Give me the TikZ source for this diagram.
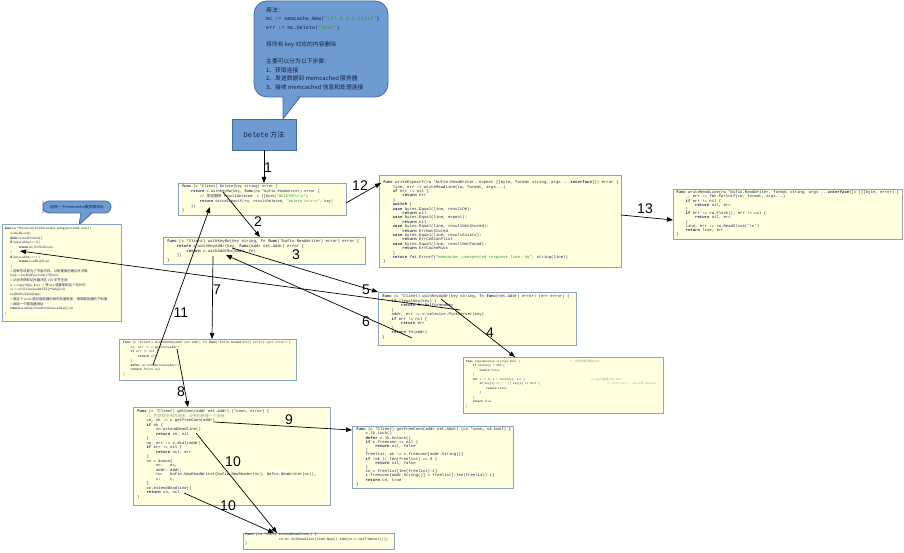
\documentclass[tikz,border=0pt]{standalone}
\usepackage{fontspec}
\setmainfont{Liberation Sans}
\setmonofont{Liberation Mono}
\newfontfamily\cjk{Noto Sans CJK SC}
\newfontfamily\pserif{Liberation Serif}
\usetikzlibrary{arrows.meta}
\definecolor{bubfill}{RGB}{111,155,211}
\definecolor{bubdraw}{RGB}{72,106,160}
\definecolor{boxfill}{RGB}{255,255,224}
\definecolor{boxdraw}{RGB}{138,163,198}
\definecolor{codec}{RGB}{28,36,88}
\definecolor{strc}{RGB}{45,155,45}
\definecolor{cmtc}{RGB}{140,160,140}
\definecolor{bubtext}{RGB}{20,30,62}
\newcommand\gokw[1]{\textbf{#1}}
\newcommand\gostr[1]{\textcolor{strc}{#1}}
\newcommand\gocm[1]{\textcolor{cmtc}{#1}}
\newcommand\zhx[1]{{\cjk #1}}
\newcommand\inA{\hspace*{2.4em}}
\newcommand\inB{\hspace*{4.8em}}
\newcommand\inC{\hspace*{7.2em}}
\newcommand\cfs[2]{\fontsize{#1}{#2}\selectfont}
\begin{document}
\begin{tikzpicture}[x=1pt,y=-1pt,
  codebox/.style={draw=boxdraw, fill=boxfill, line width=1pt, inner sep=0pt, anchor=north west, rectangle},
  codetext/.style 2 args={anchor=north west, inner sep=0pt, align=left, text=codec, font=\ttfamily\cfs{#1}{#2}},
  arr/.style={-{Triangle[length=6pt,width=4.5pt]}, line width=0.7pt, draw=black},
  numlab/.style={font=\cfs{14}{14}, text=black, inner sep=0pt},
  bubble/.style={fill=bubfill, draw=bubdraw, line width=0.8pt},
]
\fill[white] (0,0) rectangle (904,553);
\useasboundingbox (0,0) rectangle (904,553);

% big callout
\path[bubble] (254,50) [rounded corners=13pt] -- (254,1) -- (388,1) -- (388,97) -- (310,97)
  [sharp corners] -- (300,97) -- (283,119) -- (283,97) -- (270,97)
  [rounded corners=13pt] -- (254,97) -- cycle;
\node[anchor=north west, inner sep=0pt, align=left, text=bubtext, font=\cjk\cfs{5.8}{8.6}] (bubtxt) at (266,7) {用法：\\
{\ttfamily\cfs{5.1}{8.6}mc := memcache.New(\gostr{"127.0.0.1:11211"})}\\
{\ttfamily\cfs{5.1}{8.6}err := mc.Delete(\gostr{"test"})}\\
~\\
将所有 key 对应的内容删除\\
~\\
主要可以分为以下步骤：\\
1、获取连接\\
2、发送数据到 memcached 服务器\\
3、接收 memcached 信息和处理连接};

% Delete button
\node[fill=bubfill, draw=bubdraw, line width=0.8pt, minimum width=64pt, minimum height=31pt, inner sep=0pt,
  text=bubtext, font=\cjk\cfs{7}{8}] (delbtn) at (264,134.5) {{\ttfamily Delete} 方法};

% small callout
\path[bubble] (43,207) [rounded corners=6pt] -- (43,201) -- (111,201) -- (111,213) -- (96,213)
  [sharp corners] -- (92,213) -- (79,225) -- (81,213) -- (76,213)
  [rounded corners=6pt] -- (43,213) -- cycle;
\node[inner sep=0pt, text=bubtext, font=\cjk\cfs{3.8}{4}] (smalltxt) at (77,207) {选择一个memcache服务器地址};

% code boxes
\node[codebox, minimum width=168pt, minimum height=32pt] (delbox) at (178,183) {};
\node[codetext={3.7}{4.8}] (deltxt) at (182,185) {\gokw{func} (c *Client) Delete(key string) error \{\\
\inA\gokw{return} c.withKeyRw(key, \gokw{func}(rw *bufio.ReadWriter) error \{\\
\inB// \zhx{发送删除} resultDeleted\ \ = []byte(\gostr{"DELETED\textbackslash r\textbackslash n"})\\
\inB\gokw{return} writeExpectf(rw, resultDeleted, \gostr{"delete \%s\textbackslash r\textbackslash n"}, key)\\
\inA\})\\
\}};

\node[codebox, minimum width=202pt, minimum height=27pt] (rwbox) at (163,237) {};
\node[codetext={4}{4.7}] (rwtxt) at (167,239.5) {\gokw{func} (c *Client) withKeyRw(key string, fn \gokw{func}(*bufio.ReadWriter) error) error \{\\
\inA\gokw{return} c.withKeyAddr(key, \gokw{func}(addr net.Addr) error \{\\
\inB\gokw{return} c.withAddrRw(addr, fn)\\
\inA\})\\
\}};

\node[codebox, minimum width=242pt, minimum height=92pt] (wefbox) at (379,175) {};
\node[codetext={4}{4.4}] (weftxt) at (383,180.5) {\gokw{func} writeExpectf(rw *bufio.ReadWriter, expect []byte, format string, args ...\gokw{interface}\{\}) error \{\\
\inA line, err := writeReadLine(rw, format, args...)\\
\inA\gokw{if} err != nil \{\\
\inB\gokw{return} err\\
\inA\}\\
\inA\gokw{switch} \{\\
\inA\gokw{case} bytes.Equal(line, resultOK):\\
\inB\gokw{return} nil\\
\inA\gokw{case} bytes.Equal(line, expect):\\
\inB\gokw{return} nil\\
\inA\gokw{case} bytes.Equal(line, resultNotStored):\\
\inB\gokw{return} ErrNotStored\\
\inA\gokw{case} bytes.Equal(line, resultExists):\\
\inB\gokw{return} ErrCASConflict\\
\inA\gokw{case} bytes.Equal(line, resultNotFound):\\
\inB\gokw{return} ErrCacheMiss\\
\inA\}\\
\inA\gokw{return} fmt.Errorf(\gostr{"memcache: unexpected response line: \%q"}, string(line))\\
\}};

\node[codebox, minimum width=229pt, minimum height=50pt] (wrlbox) at (673,189) {};
\node[codetext={3.95}{4.2}] (wrltxt) at (676,190.5) {\gokw{func} writeReadLine(rw *bufio.ReadWriter, format string, args ...\gokw{interface}\{\}) ([]byte, error) \{\\
\inA\_, err := fmt.Fprintf(rw, format, args...)\\
\inA\gokw{if} err != nil \{\\
\inB\gokw{return} nil, err\\
\inA\}\\
\inA\gokw{if} err := rw.Flush(); err != nil \{\\
\inB\gokw{return} nil, err\\
\inA\}\\
\inA line, err := rw.ReadSlice('\textbackslash n')\\
\inA\gokw{return} line, err\\
\}};

\node[codebox, minimum width=198pt, minimum height=53pt] (kabox) at (378,292) {};
\node[codetext={3.95}{4.5}] (katxt) at (382,294.5) {\gokw{func} (c *Client) withKeyAddr(key string, fn \gokw{func}(net.Addr) error) (err error) \{\\
\inA\gokw{if} !legalKey(key) \{\\
\inB\gokw{return} ErrMalformedKey\\
\inA\}\\
\inA addr, err := c.selector.PickServer(key)\\
\inA\gokw{if} err != nil \{\\
\inB\gokw{return} err\\
\inA\}\\
\inA\gokw{return} fn(addr)\\
\}};

\node[codebox, minimum width=200pt, minimum height=56pt] (lkbox) at (463,357) {};
\node[codetext={2.8}{4.5}] (lktxt) at (466,359.5) {\makebox[37em][l]{\gokw{func} legalKey(key string) bool \{}\gocm{// \zhx{字节长度不超过}250}\\
\inA\gokw{if} len(key) > 250 \{\\
\inB\gokw{return} false\\
\inA\}\\
\makebox[44.3em][l]{\inA\gokw{for} i := 0; i < len(key); i++ \{}\gocm{// key\zhx{只能是}(32,127)}\\
\makebox[50.4em][l]{\inB\gokw{if} key[i] <= ' ' || key[i] == 0x7f \{}\gocm{// 0x7f(127) - ascii\zhx{码} delete}\\
\inC\gokw{return} false\\
\inB\}\\
\inA\}\\
\inA\gokw{return} true\\
\}};

\node[codebox, minimum width=177pt, minimum height=41pt] (arbox) at (119,339) {};
\node[codetext={3.1}{4.5}] (artxt) at (123,341.5) {\gokw{func} (c *Client) withAddrRw(addr net.Addr, fn \gokw{func}(*bufio.ReadWriter) error) (err error) \{\\
\inA cn, err := c.getConn(addr)\\
\inA\gokw{if} err != nil \{\\
\inB\gokw{return} err\\
\inA\}\\
\inA\gokw{defer} cn.condRelease(\&err)\\
\inA\gokw{return} fn(cn.rw)\\
\}};

\node[codebox, minimum width=197pt, minimum height=98pt] (gcbox) at (133,407) {};
\node[codetext={3.93}{4.5}] (gctxt) at (137,409.5) {\gokw{func} (c *Client) getConn(addr net.Addr) (*conn, error) \{\\
\inA\gocm{// \zhx{先获取空闲的连接，没有则新建一个连接}}\\
\inA cn, ok := c.getFreeConn(addr)\\
\inA\gokw{if} ok \{\\
\inB cn.extendDeadline()\\
\inB\gokw{return} cn, nil\\
\inA\}\\
\inA nc, err := c.dial(addr)\\
\inA\gokw{if} err != nil \{\\
\inB\gokw{return} nil, err\\
\inA\}\\
\inA cn = \&conn\{\\
\inB nc:\ \ \ nc,\\
\inB addr: addr,\\
\inB rw:\ \ \ bufio.NewReadWriter(bufio.NewReader(nc), bufio.NewWriter(nc)),\\
\inB c:\ \ \ \ c,\\
\inA\}\\
\inA cn.extendDeadline()\\
\inA\gokw{return} cn, nil\\
\}};

\node[codebox, minimum width=161pt, minimum height=62pt] (fcbox) at (352,426) {};
\node[codetext={3.97}{4.2}] (fctxt) at (356,427.5) {\gokw{func} (c *Client) getFreeConn(addr net.Addr) (cn *conn, ok bool) \{\\
\inA c.lk.Lock()\\
\inA\gokw{defer} c.lk.Unlock()\\
\inA\gokw{if} c.freeconn == nil \{\\
\inB\gokw{return} nil, false\\
\inA\}\\
\inA freelist, ok := c.freeconn[addr.String()]\\
\inA\gokw{if} !ok || len(freelist) == 0 \{\\
\inB\gokw{return} nil, false\\
\inA\}\\
\inA cn = freelist[len(freelist)-1]\\
\inA c.freeconn[addr.String()] = freelist[:len(freelist)-1]\\
\inA\gokw{return} cn, true\\
\}};

\node[codebox, minimum width=151pt, minimum height=16pt] (edbox) at (243,533) {};
\node[codetext={3.5}{4.3}] (edtxt) at (245,533.2) {\gokw{func} (cn *conn) extendDeadline() \{\\
\hspace*{9.6em}cn.nc.SetDeadline(time.Now().Add(cn.c.netTimeout()))\\
\}};

\node[codebox, minimum width=119pt, minimum height=97pt] (psbox) at (2,224) {};
\node[anchor=north west, inner sep=0pt, align=left, text=codec, font=\pserif\cfs{3.4}{4.7}] (pstxt) at (5,227.3) {\gokw{func} (ss *ServerList) PickServer(key string) (net.Addr, error) \{\\
\hspace*{1.5em}ss.mu.RLock()\\
\hspace*{1.5em}\gokw{defer} ss.mu.RUnlock()\\
\hspace*{1.5em}\gokw{if} len(ss.addrs) == 0 \{\\
\hspace*{4em}\gokw{return} nil, ErrNoServers\\
\hspace*{1.5em}\}\\
\hspace*{1.5em}\gokw{if} len(ss.addrs) == 1 \{\\
\hspace*{4em}\gokw{return} ss.addrs[0], nil\\
\hspace*{1.5em}\}\\
\hspace*{1.5em}// \zhx{这种写法是为了节省内存，以免重复创建切片对象}\\
\hspace*{1.5em}bufp := keyBufPool.Get().(*[]byte)\\
\hspace*{1.5em}// \zhx{从池中获取切片缓冲区} 250 \zhx{字节空间}\\
\hspace*{1.5em}n := copy(*bufp, key)\ \ \ // \zhx{将} key \zhx{值复制到这个切片中}\\
\hspace*{1.5em}cs := crc32.ChecksumIEEE((*bufp)[:n])\\
\hspace*{1.5em}keyBufPool.Put(bufp)\\
\hspace*{1.5em}// \zhx{用这个} crc32 \zhx{值对服务器列表的长度取余，得到服务器的下标值}\\
\hspace*{1.5em}// \zhx{返回一个服务器地址}\\
\hspace*{1.5em}\gokw{return} ss.addrs[cs\%uint32(len(ss.addrs))], nil\\
\}};

% connector end points
\coordinate (s2) at ([shift={(45,9)}]delbox.north west);
\coordinate (e2) at ([shift={(97,0)}]rwbox.north west);
\coordinate (s3) at ([shift={(69,11)}]rwbox.north west);
\coordinate (s4) at ([shift={(63,7)}]kabox.north west);
\coordinate (e4) at ([shift={(52,0)}]lkbox.north west);
\coordinate (s5) at ([shift={(82,18)}]kabox.north west);
\coordinate (e5) at ([shift={(18,27)}]psbox.north west);
\coordinate (s6) at ([shift={(34,46)}]kabox.north west);
\coordinate (e6) at ([shift={(63,18)}]rwbox.north west);
\coordinate (s7) at ([shift={(50,19)}]rwbox.north west);
\coordinate (e7) at ([shift={(93,0)}]arbox.north west);
\coordinate (s8) at ([shift={(58,10)}]arbox.north west);
\coordinate (e8) at ([shift={(55,0)}]gcbox.north west);
\coordinate (s9) at ([shift={(81,15)}]gcbox.north west);
\coordinate (e9) at ([shift={(0,4)}]fcbox.north west);
\coordinate (s10a) at ([shift={(63,26)}]gcbox.north west);
\coordinate (e10a) at ([shift={(34,0)}]edbox.north west);
\coordinate (s10b) at ([shift={(51,86)}]gcbox.north west);
\coordinate (e10b) at ([shift={(31,0)}]edbox.north west);
\coordinate (s11) at ([shift={(34,26)}]arbox.north west);
\coordinate (e11) at ([shift={(32,24)}]delbox.north west);
\coordinate (s12) at ([shift={(168,20)}]delbox.north west);
\coordinate (e12) at ([shift={(2,8)}]wefbox.north west);
\coordinate (s13) at ([shift={(242,40)}]wefbox.north west);
\coordinate (e13) at ([shift={(0,31)}]wrlbox.north west);

% connectors
\draw[arr] (delbtn.south) -- (delbtn.south |- delbox.north);
\draw[arr] (s2) -- (e2);
\draw[arr] (s3) -- (kabox.north west);
\draw[arr] (s4) -- (e4);
\draw[arr] (s5) -- (e5);
\draw[arr] (s6) -- (e6);
\draw[arr] (s7) -- (e7);
\draw[arr] (s8) -- (e8);
\draw[arr] (s9) -- (e9);
\draw[arr] (s10a) -- (e10a);
\draw[arr] (s10b) -- (e10b);
\draw[arr] (s11) -- (e11);
\draw[arr] (s12) -- (e12);
\draw[arr] (s13) -- (e13);

% labels
\node[numlab] (l1) at (268,168) {1};
\node[numlab] (l2) at (258,222) {2};
\node[numlab] (l3) at (296,255) {3};
\node[numlab] (l4) at (490,333) {4};
\node[numlab] (l5) at (366,290) {5};
\node[numlab] (l6) at (366,322) {6};
\node[numlab] (l7) at (217,290) {7};
\node[numlab] (l8) at (181,392) {8};
\node[numlab] (l9) at (289,420) {9};
\node[numlab] (l10a) at (233,462) {10};
\node[numlab] (l10b) at (228,506) {10};
\node[numlab] (l11) at (181,313) {11};
\node[numlab] (l12) at (360,186) {12};
\node[numlab] (l13) at (645,209) {13};
\end{tikzpicture}
\end{document}
